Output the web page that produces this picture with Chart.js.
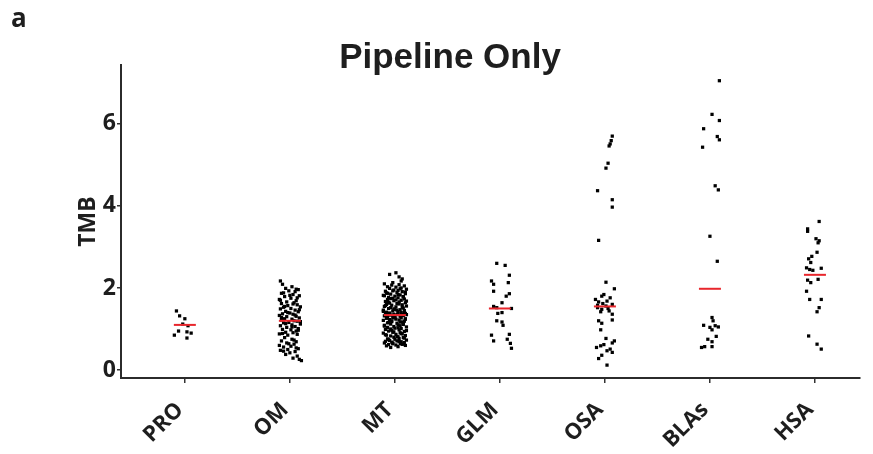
<!DOCTYPE html>
<html><head><meta charset="utf-8">
<script src="https://cdn.jsdelivr.net/npm/chart.js@4/dist/chart.umd.min.js"></script>
<style>html,body{margin:0;padding:0;background:#fff;}#wrap{width:873px;height:454px;position:relative;}</style>
</head><body><div id="wrap"><canvas id="c" width="873" height="454"></canvas></div>
<script>
const panelLabel = 'a';
const chartTitle = 'Pipeline Only';
const yAxisTitle = 'TMB';
const categories = ['PRO', 'OM', 'MT', 'GLM', 'OSA', 'BLAs', 'HSA'];
const yTicks = [0, 2, 4, 6];
const medians = [1.10, 1.20, 1.34, 1.50, 1.55, 1.98, 2.32];

const proTMB = [1.44, 1.32, 1.25, 1.12, 1.08, 0.95, 0.85, 0.93, 0.90, 0.78];
const proJitter = [-0.08, -0.05, 0.00, -0.02, 0.03, -0.06, -0.10, 0.02, 0.06, 0.02];

const omTMB = [2.17, 2.09, 2.03, 1.99, 1.96, 1.93, 1.91, 1.87, 1.84, 1.81, 1.79, 1.75, 1.72, 1.69, 1.66,
  1.64, 1.62, 1.59, 1.57, 1.54, 1.53, 1.50, 1.49, 1.46, 1.43, 1.42, 1.39, 1.37, 1.36, 1.33, 1.31, 1.30, 1.27, 1.25, 1.24,
  1.22, 1.20, 1.19, 1.16, 1.15, 1.12, 1.10, 1.08, 1.06, 1.04, 1.01, 0.99, 0.98, 0.95, 0.92, 0.91, 0.88, 0.87, 0.85,
  0.79, 0.75, 0.71, 0.69, 0.66, 0.63, 0.60, 0.58, 0.56, 0.52, 0.50, 0.48, 0.45, 0.42, 0.38, 0.34, 0.29, 0.26, 0.23,
  1.97, 1.88, 1.82, 1.76, 1.70, 1.61, 1.55, 1.47, 1.40, 1.34, 1.28, 1.18, 1.13, 1.05, 0.97, 0.89, 0.73, 0.64, 0.54, 0.46];
const omJitter = [-0.09, -0.07, 0.02, -0.04, 0.08, -0.01, 0.05, -0.08, 0.03, 0.09, -0.05, 0.01, -0.10, 0.06, -0.03,
  0.04, -0.08, 0.07, -0.02, 0.10, -0.06, 0.01, -0.09, 0.05, -0.04, 0.08, 0.00, -0.07, 0.03, -0.10, 0.06, -0.03, 0.09, -0.05, 0.02,
  -0.08, 0.04, 0.07, -0.01, -0.06, 0.10, 0.02, -0.09, 0.05, -0.03, 0.08, -0.07, 0.01, 0.06, -0.04, 0.03, -0.10, 0.07, -0.02,
  -0.05, 0.02, -0.08, 0.06, -0.03, 0.04, -0.10, 0.01, -0.06, 0.08, -0.02, -0.09, 0.05, 0.00, -0.04, 0.07, 0.03, 0.09, 0.11,
  0.06, -0.06, 0.00, 0.07, -0.09, 0.03, -0.05, 0.09, -0.02, 0.05, -0.08, 0.10, -0.04, 0.02, 0.08, -0.07, 0.04, -0.01, 0.06, -0.06];

const mtTMB = [2.37, 2.33, 2.27, 2.22, 2.17, 2.13,
  2.10, 2.08, 2.07, 2.05, 2.03, 2.02, 2.00, 1.99, 1.97, 1.95,
  1.94, 1.92, 1.91, 1.89, 1.88, 1.86, 1.85, 1.83, 1.82, 1.80,
  1.79, 1.77, 1.76, 1.75, 1.73, 1.72, 1.70, 1.69, 1.67, 1.66,
  1.64, 1.63, 1.62, 1.60, 1.59, 1.58, 1.56, 1.55, 1.54, 1.52,
  1.51, 1.50, 1.48, 1.47, 1.46, 1.45, 1.44, 1.42, 1.41, 1.40,
  1.39, 1.38, 1.37, 1.37, 1.36, 1.36, 1.35, 1.35, 1.35,
  1.34, 1.33, 1.32, 1.31, 1.30, 1.29, 1.28, 1.27, 1.26, 1.25,
  1.24, 1.23, 1.22, 1.21, 1.19, 1.18, 1.17, 1.16, 1.14, 1.13,
  1.12, 1.10, 1.09, 1.08, 1.06, 1.05, 1.04, 1.02, 1.01, 0.99,
  0.98, 0.97, 0.95, 0.94, 0.92, 0.91, 0.90, 0.88, 0.87, 0.85,
  0.84, 0.83, 0.81, 0.80, 0.79, 0.77, 0.76, 0.75, 0.73, 0.72,
  0.71, 0.70, 0.69, 0.68, 0.67, 0.66, 0.65, 0.64, 0.63, 0.62,
  0.61, 0.60, 0.59, 0.57, 0.55,
  1.98, 1.93, 1.90, 1.87, 1.84, 1.81, 1.78, 1.74, 1.71, 1.68,
  1.65, 1.61, 1.57, 1.53, 1.49, 1.46, 1.43, 1.39, 1.36, 1.33,
  1.30, 1.27, 1.24, 1.20, 1.17, 1.15, 1.11, 1.07, 1.03, 1.00,
  0.96, 0.93, 0.89, 0.86, 0.82, 0.78, 0.74, 0.70, 0.66, 0.63];
const mtJitter = [0.01, -0.05, 0.04, 0.07, 0.06, -0.02,
  -0.10, 0.04, -0.03, 0.09, -0.07, 0.01, 0.06, -0.05, 0.11, -0.01, 0.03, -0.09, 0.07,
  0.02, -0.08, 0.10, -0.04, 0.05, -0.11, 0.00, 0.08, -0.06, 0.03, -0.02, 0.09, -0.07,
  0.06, -0.01, -0.09, 0.04, 0.10, -0.05, 0.02, -0.08, 0.07, -0.03, 0.11, -0.10, 0.01,
  -0.04, 0.08, -0.06, 0.00, 0.05, -0.11, 0.09, -0.02, 0.03, -0.08, 0.06, -0.05, 0.10,
  0.03, -0.09, 0.07, -0.01, -0.06, 0.11, 0.02, -0.04, 0.08, -0.10, 0.05, 0.00, -0.07,
  -0.02, 0.06, -0.08, 0.10, 0.01, -0.05, 0.04, -0.11, 0.09, -0.03, 0.07, -0.06, 0.02,
  0.08, -0.04, 0.03, -0.10, 0.05, -0.01, 0.11, -0.07, 0.00, 0.06, -0.09, 0.04, -0.03,
  -0.06, 0.09, -0.02, 0.05, -0.11, 0.07, 0.01, -0.08, 0.10, -0.04, 0.03, -0.01, 0.08,
  0.04, -0.07, 0.00, 0.11, -0.05, 0.02, -0.09, 0.06, -0.03, 0.09, -0.10, 0.05, -0.02,
  0.07, -0.06, 0.01, 0.10, -0.08, 0.03, -0.04,
  0.05, -0.02, 0.10, -0.07, 0.03, -0.10, 0.08, -0.04, 0.01, 0.11,
  -0.06, 0.04, -0.09, 0.07, -0.01, 0.02, -0.11, 0.09, -0.05, 0.06,
  -0.08, 0.00, 0.10, -0.03, 0.05, -0.07, 0.08, -0.10, 0.03, -0.04,
  0.11, -0.01, 0.06, -0.09, 0.02, 0.09, -0.06, 0.04, -0.02, 0.07];

const glmTMB = [2.60, 2.55, 2.31, 2.17, 2.09, 2.13, 1.92, 1.86, 1.80, 1.64, 1.55, 1.52, 1.50, 1.38, 1.40, 1.20, 1.17, 1.09, 0.87, 0.85, 0.71, 0.75, 0.65, 0.53];
const glmJitter = [-0.03, 0.05, 0.09, -0.08, -0.06, 0.08, -0.06, 0.09, 0.06, 0.02, -0.06, -0.03, 0.11, -0.02, 0.02, -0.03, 0.02, 0.03, 0.09, -0.08, -0.06, 0.07, 0.10, 0.11];

const osaTMB = [5.70, 5.59, 5.51, 5.46, 5.04, 4.92, 4.37, 4.15, 3.97, 3.16, 2.14, 1.98, 1.84, 1.80, 1.76, 1.72, 1.68, 1.66, 1.62, 1.60, 1.58, 1.56,
  1.52, 1.50, 1.48, 1.44, 1.42, 1.36, 1.22, 1.20, 1.14, 0.98, 0.77, 0.71, 0.66, 0.62, 0.59, 0.55, 0.51, 0.47, 0.43, 0.36, 0.28, 0.12];
const osaJitter = [0.07, 0.06, 0.05, 0.04, 0.03, 0.01, -0.07, 0.07, 0.07, -0.06, 0.01, 0.09, -0.01, -0.03, 0.05, -0.09, 0.02, -0.06, -0.02, 0.07, -0.07, 0.01,
  -0.07, 0.03, -0.03, 0.04, -0.04, 0.07, 0.07, -0.06, -0.03, -0.04, 0.01, 0.09, 0.07, -0.01, -0.04, -0.08, 0.05, 0.02, 0.07, -0.03, -0.06, 0.02];

const blasTMB = [7.05, 6.23, 6.08, 5.88, 5.69, 5.61, 5.43, 4.49, 4.39, 3.26, 2.65, 1.28, 1.20, 1.09, 1.04, 1.08, 1.05, 0.98, 0.82, 0.75, 0.69, 0.55, 0.57, 0.57];
const blasJitter = [0.09, 0.02, 0.09, -0.06, 0.07, 0.09, -0.07, 0.05, 0.08, 0.00, 0.07, 0.02, 0.03, -0.06, 0.00, 0.05, 0.08, 0.02, 0.06, -0.02, 0.02, -0.08, -0.05, 0.02];

const hsaTMB = [3.62, 3.44, 3.38, 3.20, 3.15, 3.10, 2.87, 2.77, 2.71, 2.62, 2.49, 2.48, 2.45, 2.43, 2.21, 2.19, 2.13, 1.92, 1.72, 1.72, 1.52, 1.42, 0.83, 0.63, 0.51];
const hsaJitter = [0.04, -0.07, -0.07, 0.01, 0.04, 0.03, 0.02, -0.03, -0.06, -0.04, -0.08, 0.06, -0.05, -0.02, 0.03, -0.07, -0.04, -0.08, -0.05, 0.06, 0.04, 0.02, -0.06, 0.02, 0.06];

const groupTMB = [proTMB, omTMB, mtTMB, glmTMB, osaTMB, blasTMB, hsaTMB];
const groupJitter = [proJitter, omJitter, mtJitter, glmJitter, osaJitter, blasJitter, hsaJitter];

const pointData = [];
groupTMB.forEach((vals, g) => {
  vals.forEach((v, j) => {
    pointData.push({ x: g + 1 + (groupJitter[g][j] || 0), y: v });
  });
});
const medianData = medians.map((m, i) => ({ x: i + 1, y: m }));

const txt = '#1e1e1e';
const axisFont = { family: 'Open Sans', size: 23, weight: 'bold' };

const overlayText = {
  id: 'overlayText',
  afterDraw(chart) {
    const ctx = chart.ctx;
    ctx.save();
    ctx.fillStyle = txt;
    ctx.textAlign = 'center';
    ctx.textBaseline = 'alphabetic';
    ctx.font = 'bold 35px "Liberation Sans", Arial, sans-serif';
    ctx.fillText(chartTitle, 450, 68);
    ctx.textAlign = 'left';
    ctx.font = 'bold 26px "Open Sans", sans-serif';
    ctx.fillText(panelLabel, 11, 27);
    ctx.restore();
  }
};

new Chart(document.getElementById('c'), {
  type: 'scatter',
  data: {
    datasets: [
      {
        data: medianData,
        order: 0,
        pointStyle: 'line',
        pointRadius: 11,
        pointHoverRadius: 11,
        borderColor: '#e8262c',
        borderWidth: 2,
        pointBorderWidth: 2,
        showLine: false
      },
      {
        data: pointData,
        order: 1,
        pointStyle: 'rect',
        pointRadius: 2.3,
        pointHoverRadius: 2.3,
        backgroundColor: '#000',
        borderWidth: 0,
        pointBorderWidth: 0,
        showLine: false
      }
    ]
  },
  options: {
    responsive: false,
    devicePixelRatio: 1,
    animation: false,
    layout: { padding: { top: 65, right: 11, bottom: 0, left: 0 } },
    plugins: { legend: { display: false }, tooltip: { enabled: false }, title: { display: false } },
    scales: {
      x: {
        type: 'linear',
        min: 0.392,
        max: 7.429,
        afterBuildTicks: s => { s.ticks = categories.map((c, i) => ({ value: i + 1 })); },
        afterFit: s => { s.height = 76; s.paddingLeft = 0; s.paddingRight = 0; },
        ticks: {
          callback: v => categories[Math.round(v) - 1] || '',
          autoSkip: false,
          minRotation: 45,
          maxRotation: 45,
          padding: 14,
          labelOffset: -5,
          color: txt,
          font: { family: 'Open Sans', size: 22, weight: 'bold' }
        },
        grid: { display: true, drawOnChartArea: false, drawTicks: true, tickLength: 5, color: '#333', lineWidth: 1.5 },
        border: { display: true, color: '#2b2b2b', width: 2 }
      },
      y: {
        type: 'linear',
        min: -0.194,
        max: 7.433,
        afterBuildTicks: s => { s.ticks = yTicks.map(v => ({ value: v })); },
        afterFit: s => { s.width = 121; s.paddingTop = 0; s.paddingBottom = 0; },
        ticks: { padding: 1, color: txt, font: axisFont },
        grid: { display: true, drawOnChartArea: false, drawTicks: true, tickLength: 4, color: '#333', lineWidth: 1.5 },
        border: { display: true, color: '#2b2b2b', width: 2 },
        title: { display: true, text: yAxisTitle, color: txt, font: axisFont, padding: { top: 75, bottom: 0 } }
      }
    }
  },
  plugins: [overlayText]
});
</script>
</body></html>
